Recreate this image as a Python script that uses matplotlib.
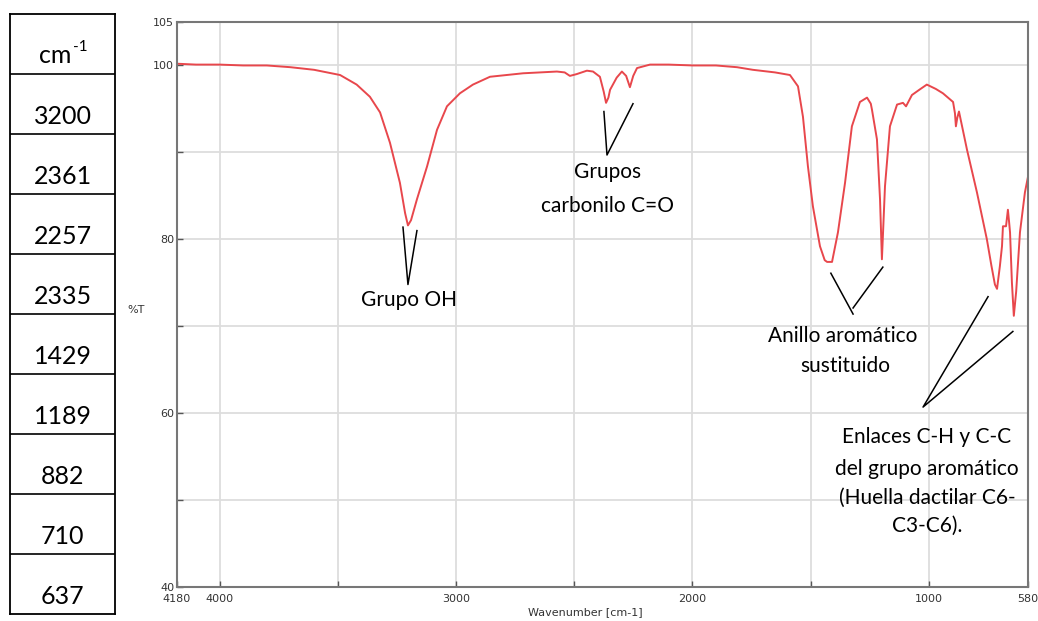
import matplotlib.pyplot as plt

# Espectro IR (cm-1, %T)
wavenumber = [4180, 4100, 4000, 3900, 3800, 3700, 3600, 3490, 3420, 3364, 3321, 3279,
              3237, 3215, 3203, 3190, 3165, 3122, 3080, 3038, 2983, 2928, 2856, 2716,
              2573, 2540, 2518, 2490, 2446, 2420, 2391, 2375, 2365, 2355, 2348, 2320,
              2298, 2280, 2264, 2250, 2234, 2179, 2100, 1997, 1900, 1811, 1744, 1650,
              1587, 1553, 1532, 1511, 1490, 1460, 1440, 1430, 1409, 1384, 1354, 1325,
              1291, 1261, 1245, 1240, 1219, 1206, 1198, 1185, 1164, 1134, 1109, 1096,
              1071, 1040, 1008, 970, 940, 897, 889, 885, 879, 872, 855, 838, 796, 754,
              735, 720, 711, 699, 690, 686, 673, 665, 660, 656, 648, 640, 630, 614,
              593, 580]
transmittance = [100.2, 100.1, 100.1, 100.0, 100.0, 99.8, 99.5, 98.9, 97.8, 96.4, 94.6, 91.1,
                 86.5, 83.0, 81.6, 82.2, 84.6, 88.4, 92.6, 95.3, 96.8, 97.8, 98.7, 99.1,
                 99.3, 99.2, 98.8, 99.0, 99.4, 99.3, 98.7, 97.0, 95.7, 96.3, 97.2, 98.6,
                 99.3, 98.8, 97.5, 98.8, 99.7, 100.1, 100.1, 100.0, 100.0, 99.8, 99.5, 99.2,
                 98.9, 97.6, 94.1, 88.4, 83.8, 79.2, 77.6, 77.4, 77.4, 80.8, 86.5, 93.0,
                 95.8, 96.3, 95.6, 94.9, 91.5, 84.6, 77.7, 86.1, 93.0, 95.5, 95.7, 95.3,
                 96.6, 97.2, 97.8, 97.3, 96.8, 95.8, 94.5, 93.0, 94.0, 94.7, 92.5, 90.3, 85.4, 80.0,
                 77.0, 74.8, 74.3, 76.9, 79.2, 81.5, 81.5, 83.4, 82.0, 80.8, 75.0, 71.2, 74.0, 80.8,
                 85.4, 87.2]

table_header = "cm"
table_values = ["3200", "2361", "2257", "2335", "1429", "1189", "882", "710", "637"]

x_ticks = [4180, 4000, 3500, 3000, 2500, 2000, 1500, 1000, 580]
x_labels = ["4180", "4000", "", "3000", "", "2000", "", "1000", "580"]
y_ticks = [40, 50, 60, 70, 80, 90, 100, 105]
y_labels = ["40", "", "60", "", "80", "", "100", "105"]

# anotaciones: lineas (x, y) en unidades de datos y textos
ann_lines = [
    ([3224, 3203, 3165], [81.4, 74.8, 81.0]),
    ([2374, 2361, 2251], [94.7, 89.7, 95.6]),
    ([1414, 1320], [76.1, 71.4]),
    ([1194, 1320], [76.8, 72.1]),
    ([749, 1024, 644], [73.4, 60.7, 69.4]),
]
ann_texts = [
    (3199, 73.0, "Grupo OH"),
    (2357, 87.8, "Grupos"),
    (2357, 83.8, "carbonilo C=O"),
    (1363, 68.9, "Anillo aromático"),
    (1354, 65.4, "sustituido"),
    (1007, 57.3, "Enlaces C-H y C-C"),
    (1007, 53.6, "del grupo aromático"),
    (1007, 50.2, "(Huella dactilar C6-"),
    (1007, 47.0, "C3-C6)."),
]

W, H = 1038, 621
fig = plt.figure(figsize=(W / 100, H / 100), dpi=100)

# --- tabla de la izquierda ---
tx0, tx1, ty0, ty1 = 10, 115, 14, 614
tab = fig.add_axes([tx0 / W, 1 - ty1 / H, (tx1 - tx0) / W, (ty1 - ty0) / H])
n_rows = len(table_values) + 1
tab.set_xlim(0, 1)
tab.set_ylim(n_rows, 0)
tab.set_xticks([])
tab.set_yticks([])
for s in tab.spines.values():
    s.set_linewidth(1.3)
for i in range(1, n_rows):
    tab.axhline(i, color="black", lw=1.2)
font_main = ["Lato", "DejaVu Sans"]
tab.text(0.43, 0.82, table_header, ha="center", va="baseline", fontsize=18, family=font_main)
tab.text(0.60, 0.55, "-1", ha="left", va="center", fontsize=11, family=font_main)
for i, v in enumerate(table_values):
    tab.text(0.5, i + 1.84, v, ha="center", va="baseline", fontsize=18, family=font_main)

# --- espectro ---
ax = fig.add_axes([177 / W, 1 - 587 / H, 851 / W, 565 / H])
ax.plot(wavenumber, transmittance, color="#e8474c", lw=1.4)
ax.set_xlim(4180, 580)
ax.set_ylim(40, 105)
ax.set_xticks(x_ticks)
ax.set_xticklabels(x_labels)
ax.set_yticks(y_ticks)
ax.set_yticklabels(y_labels)
tick_font = ["Liberation Sans Narrow", "DejaVu Sans"]
for lab in ax.get_xticklabels() + ax.get_yticklabels():
    lab.set_family(tick_font)
    lab.set_fontsize(8)
    lab.set_color("#333333")
ax.tick_params(direction="in", length=4, width=1, color="#555555", pad=2)
ax.tick_params(axis="x", pad=5)
ax.grid(True, color="#dddddd", lw=1.3)
ax.set_axisbelow(True)
for s in ax.spines.values():
    s.set_color("#777777")
    s.set_linewidth(1.5)

for xs, ys in ann_lines:
    ax.plot(xs, ys, color="black", lw=1.1)
for x, y, t in ann_texts:
    ax.text(x, y, t, ha="center", va="center", fontsize=15, family=font_main)

fig.text(585 / W, 1 - 612 / H, "Wavenumber [cm-1]", ha="center", va="center",
         fontsize=8, family=tick_font, color="#333333")
fig.text(136 / W, 1 - 310 / H, "%T", ha="center", va="center",
         fontsize=8, family=tick_font, color="#333333")

fig.savefig("out.png", dpi=100)
